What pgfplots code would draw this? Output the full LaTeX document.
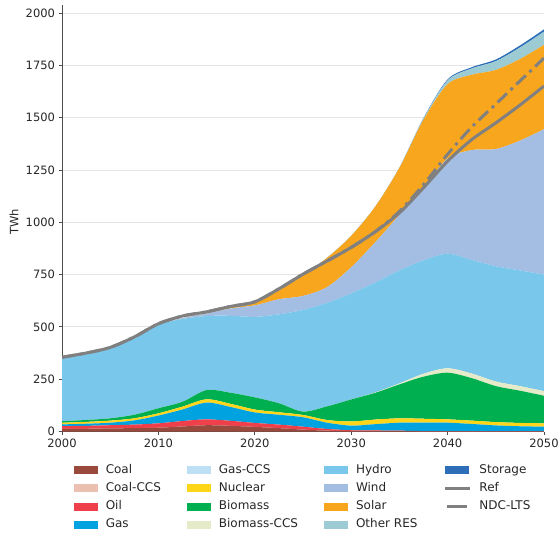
\documentclass[border=0pt]{standalone}
\usepackage{fontspec}
\setmainfont{DejaVu Sans}
\usepackage{pgfplots}
\pgfplotsset{compat=1.18}
\usepackage{pgfplotstable}

\newcommand\fs{\fontsize{11.5bp}{13.8bp}\selectfont}
\newcommand\lfs{\fontsize{12bp}{14bp}\selectfont}

\definecolor{cCoal}{HTML}{9A4A3D}
\definecolor{cCoalCCS}{HTML}{EBC0B0}
\definecolor{cOil}{HTML}{EE3F4A}
\definecolor{cGas}{HTML}{00A3E0}
\definecolor{cGasCCS}{HTML}{BDE0F5}
\definecolor{cNuclear}{HTML}{FFD51A}
\definecolor{cBiomass}{HTML}{00AF50}
\definecolor{cBioCCS}{HTML}{E5EBC8}
\definecolor{cHydro}{HTML}{7AC7EC}
\definecolor{cWind}{HTML}{A3BDE3}
\definecolor{cSolar}{HTML}{F8A61E}
\definecolor{cOther}{HTML}{9CCBD3}
\definecolor{cStorage}{HTML}{2E6EB8}
\definecolor{cLine}{HTML}{808080}

% Electricity generation by source (TWh), stacked
\pgfplotstableread{
year   coal coalccs oil gas gasccs nuclear biomass bioccs hydro wind solar other storage ref  ndc
2000   12   0       14  8   0      8       7       0      301   0    0     0     0       355  355
2002.5 13   0       14  10  0      9       9       0      317   0    0     0     0       375  375
2005   15   0       15  12  0      10      11      0      334   0    0     0     0       402  402
2007.5 16   0       17  20  0      10      17      0      370   0    0     0     0       452  452
2010   18   0       21  37  0      11      24      0      399   1    0     0     0       515  515
2012.5 24   0       26  55  0      14      23      0      396   3    0     0     0       552  552
2015   30   0       28  80  0      16      44      0      354   12   2     0     0       572  572
2017.5 27   0       24  66  0      15      53      0      368   35   5     0     0       598  598
2020   22   0       19  50  0      14      58      0      385   55   12    0     0       620  620
2022.5 16   0       17  47  0      12      43      0      425   72   43    0     0       682  682
2025   9    0       14  45  0      11      16      0      486   67   100   0     0       752  752
2027.5 4    0       8   30  0      13      65      0      495   75   140   0     0       815  815
2030   2    0       4   22  0      20      105     0      507   125  150   0     0       880  880
2032.5 2    0       3   30  0      22      128     2      525   193  170   0     0       955  955
2035   2    0       2   38  0      21      162     5      540   265  225   0     1       1045 1052
2037.5 1    0       1   40  0      19      201     14     542   347  325   5     3       1165 1180
2040   1    0       1   40  0      16      223     21     548   455  355   18    5       1292 1325
2042.5 1    0       1   34  0      16      203     22     543   525  360   30    6       1395 1455
2045   1    0       1   27  0      16      172     22     551   560  378   42    8       1475 1565
2047.5 1    0       1   23  0      16      154     22     553   620  390   55    10      1560 1675
2050   1    0       1   21  0      16      132     22     557   695  403   63    11      1651 1785
}\mix

\pgfplotsset{
  patchleg/.style={legend image code/.code={\fill[##1, draw=none] (0bp,-4bp) rectangle (24bp,4bp);}},
  frame/.style={
    at={(0,0)}, anchor=south west,
    scale only axis, width=482bp, height=426.8bp,
    xmin=2000, xmax=2050, ymin=0, ymax=2040,
  },
}

\begin{document}
\begin{tikzpicture}
\useasboundingbox (-62bp,-105.5bp) rectangle (498bp,431.5bp);
\begin{axis}[
  frame,
  stack plots=y,
  xtick={2000,2010,...,2050}, ytick={0,250,...,2000},
  axis lines*=left,
  axis line style={-, draw=black!70, line width=0.9bp},
  tick align=outside, major tick length=3.5bp,
  tick style={draw=black!70, line width=0.9bp},
  ymajorgrids, grid style={draw=black!10, line width=0.9bp},
  /pgf/number format/assume math mode=true,
  /pgf/number format/1000 sep={},
  tick label style={font=\fs, text=black!85},
  ylabel={TWh},
  ylabel style={at={(axis description cs:-0.0996,0.491)}, anchor=center, font=\fs, text=black!85},
  legend columns=4, transpose legend,
  legend cell align=left,
  legend style={draw=none, fill=none, inner sep=0pt,
    at={(axis description cs:0.024,-0.074)}, anchor=north west,
    font=\lfs, text=black!85, row sep=5bp,
    nodes={inner sep=1bp, text height=8.8bp, text depth=2.5bp},
    /tikz/every odd column/.append style={column sep=7bp},
    /tikz/every even column/.append style={column sep=25bp}},
  every axis plot/.append style={draw=none, smooth, patchleg},
]
\addplot[fill=cCoal]    table[x=year, y=coal]    {\mix} \closedcycle; \addlegendentry{Coal}
\addplot[fill=cCoalCCS] table[x=year, y=coalccs] {\mix} \closedcycle; \addlegendentry{Coal-CCS}
\addplot[fill=cOil]     table[x=year, y=oil]     {\mix} \closedcycle; \addlegendentry{Oil}
\addplot[fill=cGas]     table[x=year, y=gas]     {\mix} \closedcycle; \addlegendentry{Gas}
\addplot[fill=cGasCCS]  table[x=year, y=gasccs]  {\mix} \closedcycle; \addlegendentry{Gas-CCS}
\addplot[fill=cNuclear] table[x=year, y=nuclear] {\mix} \closedcycle; \addlegendentry{Nuclear}
\addplot[fill=cBiomass] table[x=year, y=biomass] {\mix} \closedcycle; \addlegendentry{Biomass}
\addplot[fill=cBioCCS]  table[x=year, y=bioccs]  {\mix} \closedcycle; \addlegendentry{Biomass-CCS}
\addplot[fill=cHydro]   table[x=year, y=hydro]   {\mix} \closedcycle; \addlegendentry{Hydro}
\addplot[fill=cWind]    table[x=year, y=wind]    {\mix} \closedcycle; \addlegendentry{Wind}
\addplot[fill=cSolar]   table[x=year, y=solar]   {\mix} \closedcycle; \addlegendentry{Solar}
\addplot[fill=cOther]   table[x=year, y=other]   {\mix} \closedcycle; \addlegendentry{Other RES}
\addplot[fill=cStorage] table[x=year, y=storage] {\mix} \closedcycle; \addlegendentry{Storage}
\addlegendimage{legend image code/.code={\draw[cLine, line width=3bp] (0bp,0bp) -- (25bp,0bp);}}
\addlegendentry{Ref}
\addlegendimage{legend image code/.code={\draw[cLine, line width=3bp] (2bp,0bp) -- (22bp,0bp);}}
\addlegendentry{NDC-LTS}
\end{axis}
% demand trajectories drawn over the stacked areas
\begin{axis}[frame, hide axis]
\addplot[cLine, line width=3bp, smooth] table[x=year, y=ref] {\mix};
\addplot[cLine, line width=3bp, smooth, line cap=butt,
  dash pattern=on 13bp off 5bp on 3bp off 5bp] table[x=year, y=ndc] {\mix};
\end{axis}
\end{tikzpicture}
\end{document}
